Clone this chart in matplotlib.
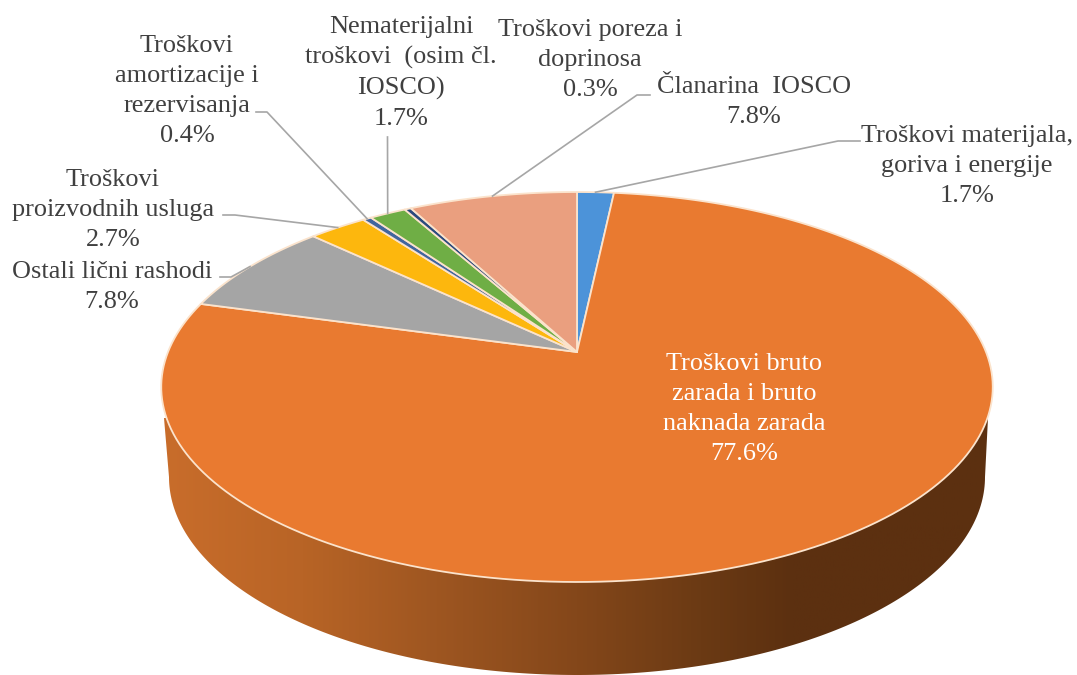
#!/usr/bin/env python3
import numpy as np
import matplotlib
matplotlib.use('Agg')
import matplotlib.pyplot as plt
from matplotlib.colors import LinearSegmentedColormap
from matplotlib.patches import Polygon

plt.rcParams['font.family'] = ['Liberation Serif', 'DejaVu Serif']

# chart data, clockwise from twelve o'clock
labels = [
    'Troškovi materijala,\ngoriva i energije',
    'Troškovi bruto\nzarada i bruto\nnaknada zarada',
    'Ostali lični rashodi',
    'Troškovi\nproizvodnih usluga',
    'Troškovi\namortizacije i\nrezervisanja',
    'Nematerijalni\ntroškovi  (osim čl.\nIOSCO)',
    'Troškovi poreza i\ndoprinosa',
    'Članarina  IOSCO',
]
values = [1.7, 77.6, 7.8, 2.7, 0.4, 1.7, 0.3, 7.8]
colors = ['#4c93d9', '#e97a30', '#a5a5a5', '#fdb70d',
          '#41659f', '#6fae45', '#2b4a7e', '#ea9f7f']

# where the label block is centred, in pixels
label_pos = [(967, 166), (744, 409), (112, 287), (113, 210),
             (187, 91), (401, 73), (590, 60), (754, 102)]
# leader lines: end of the horizontal bit next to the text, and its knee
leaders = {
    0: ((860, 141), (838, 141)),
    2: ((220, 277), (231, 277)),
    3: ((223, 215), (235, 215)),
    4: ((256, 112), (267, 112)),
    5: ((387.5, 137), (387.5, 137)),
    7: ((650, 95), (637, 95)),
}

# pie geometry in pixels, the top face is a circle seen in perspective
CX, CY = 577, 352
A, B, K = 409.0, 188.7, 0.1795
BOTTOM_CY, BOTTOM_RX, BOTTOM_RY = 477, 408, 198


def project(theta):
    # theta is clockwise from the top, in radians
    x = np.sin(theta)
    y = np.cos(theta)
    d = 1 + K * y
    return CX + A * x / d, CY - B * y / d


fig = plt.figure(figsize=(10.77, 6.75), dpi=100)
ax = fig.add_axes([0, 0, 1, 1])

# side wall
arc = np.linspace(-np.pi / 2, np.pi / 2, 200)
side_x = [CX - 413] + list(CX + BOTTOM_RX * np.sin(arc)) + [CX + 411]
side_y = [418] + list(BOTTOM_CY + BOTTOM_RY * np.cos(arc)) + [418]
side = Polygon(np.column_stack([side_x, side_y]), closed=True, fc='none', ec='none')
ax.add_patch(side)
side_cmap = LinearSegmentedColormap.from_list('side', [
    (0.00, '#c96d2b'), (0.17, '#b86426'), (0.33, '#9e5621'), (0.50, '#84471a'),
    (0.65, '#6b3a14'), (0.76, '#5c3010'), (1.00, '#5c3010')])
gradient = np.linspace(0, 1, 512).reshape(1, -1)
img = ax.imshow(gradient, cmap=side_cmap, aspect='auto', extent=[160, 994, 676, 380])
img.set_clip_path(side)

# top face
edges = np.cumsum([0] + values) / sum(values) * 2 * np.pi
for i in range(len(values)):
    t = np.linspace(edges[i], edges[i + 1], 200)
    x, y = project(t)
    ax.fill(np.r_[CX, x], np.r_[CY, y], fc=colors[i], ec='#fbe3cc', lw=1.3, joinstyle='round')

# leader lines end on the rim in the middle of their slice
for i, (start, knee) in leaders.items():
    mx, my = project((edges[i] + edges[i + 1]) / 2)
    ax.plot([start[0], knee[0], mx], [start[1], knee[1], my], color='#a6a6a6', lw=1.2)

# labels
for i in range(len(values)):
    text = labels[i] + '\n%.1f%%' % values[i]
    ax.text(label_pos[i][0], label_pos[i][1], text, ha='center', va='center',
            fontsize=18.9, linespacing=1.46,
            color='white' if i == 1 else '#404040')

ax.set_xlim(0, 1077)
ax.set_ylim(675, 0)
ax.axis('off')
fig.savefig('out.png', dpi=100, facecolor='white')
